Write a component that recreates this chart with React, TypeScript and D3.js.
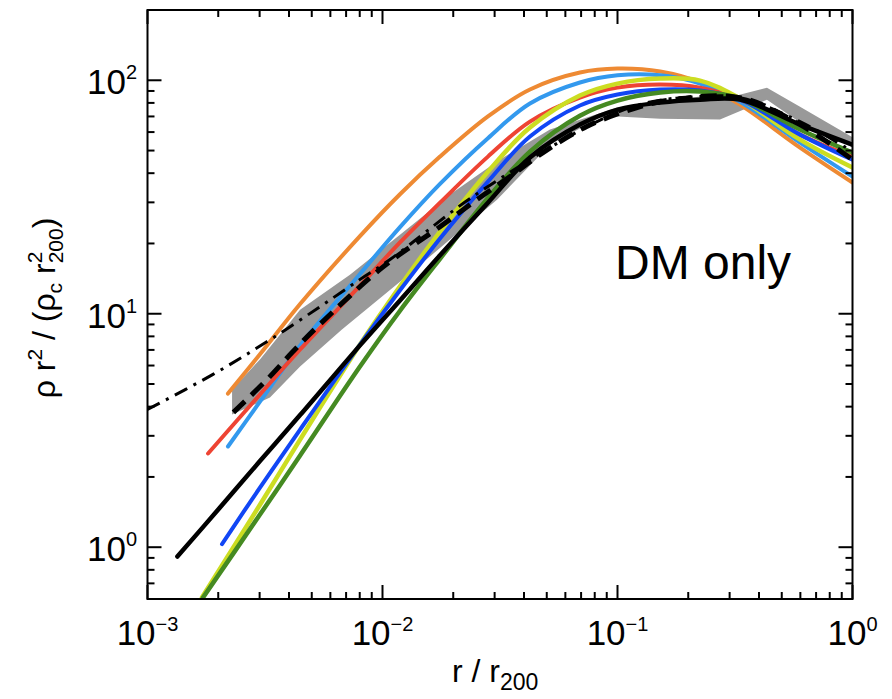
import React from 'react';
import * as d3 from 'd3';

const W = 892;
const H = 699;

// ---- data (r/r200, rho r^2 / (rho_c r200^2)) ----
const orange = [
  [0.0022, 4.55], [0.00301, 6.7], [0.00446, 11.0], [0.00802, 21.5], [0.01187, 32.5],
  [0.01757, 47.1], [0.0281, 70.0], [0.0424, 91.3], [0.0692, 107.9], [0.1, 112.2],
  [0.152, 109], [0.2245, 97.8], [0.332, 78.7], [0.598, 51.5], [1.0, 36.5],
];
const lightBlue = [
  [0.0022, 2.7], [0.00301, 4.2], [0.00446, 7.3], [0.00802, 14.8], [0.01187, 23.5],
  [0.01757, 36.0], [0.0281, 56.5], [0.0424, 79.5], [0.0692, 97.8], [0.1, 105],
  [0.152, 105], [0.2245, 96.8], [0.332, 81], [0.598, 54.1], [1.0, 38.7],
];
const red = [
  [0.00181, 2.52], [0.00301, 4.51], [0.00446, 7.03], [0.00802, 13.2], [0.01187, 20.2],
  [0.01757, 29.9], [0.0281, 47.1], [0.0424, 66.5], [0.0692, 84.3], [0.1, 93],
  [0.152, 95.9], [0.2245, 93], [0.332, 82.6], [0.598, 58.5], [1.0, 47.1],
];
const yellow = [
  [0.001705, 0.609], [0.00301, 1.52], [0.00446, 2.89], [0.00802, 7.38], [0.01187, 13.1],
  [0.01757, 22.5], [0.0281, 40.6], [0.0424, 62.7], [0.0692, 86.0], [0.1, 96.8],
  [0.152, 101.7], [0.2245, 99.7], [0.332, 83.5], [0.598, 55.7], [1.0, 42.3],
];
const blue = [
  [0.002075, 1.03], [0.00301, 1.8], [0.00446, 3.19], [0.00802, 7.38], [0.01187, 12.6],
  [0.01757, 21.0], [0.0281, 36.8], [0.0424, 57.4], [0.0692, 78.0], [0.1, 86.9],
  [0.152, 91.3], [0.2245, 90.4], [0.332, 82.6], [0.598, 58.5], [1.0, 45.7],
];
const green = [
  [0.00172, 0.607], [0.00301, 1.38], [0.00446, 2.47], [0.00802, 5.94], [0.01187, 10.3],
  [0.01757, 17.2], [0.0281, 31.3], [0.0424, 49.5], [0.0692, 70.5], [0.1, 81.8],
  [0.152, 88.6], [0.2245, 89.5], [0.332, 83.5], [0.598, 61.5], [1.0, 49.0],
];
const blackSolid = [
  [0.00134, 0.912], [0.002, 1.45], [0.00301, 2.34], [0.00446, 3.68], [0.00802, 7.32],
  [0.01187, 11.4], [0.01757, 17.8], [0.0281, 29.9], [0.0424, 46.7], [0.0692, 64.6],
  [0.1, 74.9], [0.152, 80.3], [0.2245, 82.6], [0.332, 82.6], [0.598, 64.6], [1.0, 53.0],
];
const blackDashed = [
  [0.00232, 3.78], [0.00323, 5.23], [0.00416, 6.89], [0.00526, 8.76], [0.01, 15.8],
  [0.01757, 23.6], [0.0252, 30.8], [0.0349, 38.7], [0.0482, 49.0], [0.074, 63.4],
  [0.125, 77.2], [0.172, 82.6], [0.332, 84.3], [0.598, 64.6], [1.0, 45.7],
];
const blackDashDot = [
  [0.001, 3.89], [0.0019, 5.5], [0.00323, 7.6], [0.00541, 10.7], [0.008, 14],
  [0.0108, 17.1], [0.0243, 31.8], [0.0818, 66.5], [0.134, 80.2], [0.2245, 85.2],
  [0.332, 84.3], [0.598, 66.5], [1.0, 49.5],
];
const bandUpper = [
  [0.00229, 4.74], [0.00301, 6.37], [0.00446, 10.4], [0.00727, 14.7], [0.01187, 21.8],
  [0.01937, 32.4], [0.0316, 45.8], [0.0516, 61.5], [0.1, 76.4], [0.2245, 85.2],
  [0.273, 82.6], [0.4325, 93.0], [0.598, 77.0], [1.0, 57.0],
];
const bandLower = [
  [0.00229, 3.7], [0.00332, 4.38], [0.00446, 5.94], [0.00672, 8.56], [0.01187, 13.7],
  [0.01937, 20.8], [0.0307, 30.8], [0.0516, 53], [0.0842, 69.2], [0.1, 70],
  [0.152, 68.5], [0.273, 68], [0.4325, 82.6], [0.598, 65.9], [1.0, 51.5],
];

const xMajor = [1e-3, 1e-2, 1e-1, 1];
const xExp = ['\u22123', '\u22122', '\u22121', '0'];
const yMajor = [1, 10, 100];
const yExp = ['0', '1', '2'];

const L = 147.5, R = 852.5, T = 10, B = 599;
const FONT = "'Liberation Sans', Arial, Helvetica, sans-serif";

export default function App() {
  const xs = d3.scaleLog().domain([1e-3, 1]).range([L, R]);
  const ys = d3.scaleLog().domain([0.6, 200]).range([B, T]);
  const line = d3.line<number[]>().x(d => xs(d[0])).y(d => ys(d[1])).curve(d3.curveCatmullRom.alpha(0.5));
  const poly = d3.line<number[]>().x(d => xs(d[0])).y(d => ys(d[1])).curve(d3.curveLinear);

  const xMinor: number[] = [];
  [-3, -2, -1].forEach(e => { for (let k = 2; k <= 9; k++) xMinor.push(k * Math.pow(10, e)); });
  const yMinor: number[] = [];
  for (let k = 7; k <= 9; k++) yMinor.push(k * 0.1);
  [0, 1].forEach(e => { for (let k = 2; k <= 9; k++) yMinor.push(k * Math.pow(10, e)); });

  const band = [...bandUpper, ...bandLower.slice().reverse()];

  const series = [
    { d: orange, c: '#EE8A33', w: 4 },
    { d: lightBlue, c: '#3399EE', w: 4 },
    { d: red, c: '#EE4433', w: 4 },
    { d: yellow, c: '#CCDD22', w: 4.5 },
    { d: blue, c: '#1146F5', w: 4 },
    { d: green, c: '#458A22', w: 4.5 },
  ];

  const MAJ = 14, MIN = 7;

  return (
    <svg width={W} height={H} style={{ position: 'absolute', left: 0, top: 0, background: '#fff' }}
      fontFamily={FONT}>
      <defs>
        <clipPath id="plotclip">
          <rect x={L} y={T} width={R - L} height={B - T} />
        </clipPath>
      </defs>
      <rect x={0} y={0} width={W} height={H} fill="#fff" />
      <g clipPath="url(#plotclip)">
        <path d={(poly(band) || '') + 'Z'} fill="#999999" stroke="none" />
        {series.map((s, i) => (
          <path key={i} d={line(s.d) || ''} fill="none" stroke={s.c} strokeWidth={s.w}
            strokeLinecap="round" strokeLinejoin="round" />
        ))}
        <path d={line(blackSolid) || ''} fill="none" stroke="#000" strokeWidth={4.5} strokeLinecap="round" />
        <path d={line(blackDashed) || ''} fill="none" stroke="#000" strokeWidth={5} strokeDasharray="16 9" />
        <path d={line(blackDashDot) || ''} fill="none" stroke="#000" strokeWidth={3} strokeDasharray="14 7 3 7" />
      </g>

      {/* frame */}
      <rect x={L} y={T} width={R - L} height={B - T} fill="none" stroke="#000" strokeWidth={2} />

      {/* x ticks */}
      {xMajor.map((v, i) => (
        <g key={'xM' + i}>
          <line x1={xs(v)} x2={xs(v)} y1={B} y2={B - MAJ} stroke="#000" strokeWidth={2} />
          <line x1={xs(v)} x2={xs(v)} y1={T} y2={T + MAJ} stroke="#000" strokeWidth={2} />
          <text x={xs(v)} y={645} textAnchor="middle" fontSize={35} fill="#000">
            10<tspan fontSize={20} dy={-14}>{xExp[i]}</tspan>
          </text>
        </g>
      ))}
      {xMinor.map((v, i) => (
        <g key={'xm' + i}>
          <line x1={xs(v)} x2={xs(v)} y1={B} y2={B - MIN} stroke="#000" strokeWidth={2} />
          <line x1={xs(v)} x2={xs(v)} y1={T} y2={T + MIN} stroke="#000" strokeWidth={2} />
        </g>
      ))}

      {/* y ticks */}
      {yMajor.map((v, i) => (
        <g key={'yM' + i}>
          <line x1={L} x2={L + MAJ} y1={ys(v)} y2={ys(v)} stroke="#000" strokeWidth={2} />
          <line x1={R} x2={R - MAJ} y1={ys(v)} y2={ys(v)} stroke="#000" strokeWidth={2} />
          <text x={137} y={ys(v) + 14} textAnchor="end" fontSize={35} fill="#000">
            10<tspan fontSize={20} dy={-15}>{yExp[i]}</tspan>
          </text>
        </g>
      ))}
      {yMinor.map((v, i) => (
        <g key={'ym' + i}>
          <line x1={L} x2={L + MIN} y1={ys(v)} y2={ys(v)} stroke="#000" strokeWidth={2} />
          <line x1={R} x2={R - MIN} y1={ys(v)} y2={ys(v)} stroke="#000" strokeWidth={2} />
        </g>
      ))}

      {/* axis titles */}
      <text x={452} y={682} fontSize={32} fill="#000">
        r / r<tspan fontSize={23} dy={8}>200</tspan>
      </text>
      <g transform="translate(55,308) rotate(-90)">
        <text x={0} y={0} textAnchor="middle" fontSize={32} fill="#000">
          {'\u03C1 r'}<tspan fontSize={21} dy={-13}>2</tspan>
          <tspan fontSize={32} dy={13}>{' / (\u03C1'}</tspan>
          <tspan fontSize={21} dy={7}>c</tspan>
          <tspan fontSize={32} dy={-7}>{' r'}</tspan>
          <tspan fontSize={21} dy={-13}>2</tspan>
          <tspan fontSize={21} dx={-11.7} dy={21}>200</tspan>
          <tspan fontSize={32} dy={-8}>)</tspan>
        </text>
      </g>

      <text x={615} y={279} fontSize={48} fill="#000">DM only</text>
    </svg>
  );
}
